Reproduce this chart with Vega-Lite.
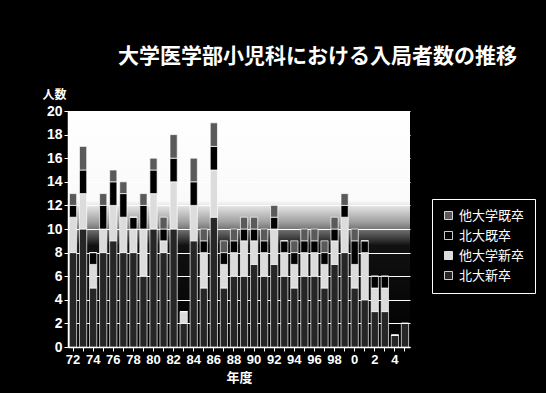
{
  "$schema": "https://vega.github.io/schema/vega-lite/v6.json",
  "autosize": "none",
  "width": 342,
  "height": 236,
  "padding": {"left": 68, "top": 111, "right": 136, "bottom": 46},
  "background": "#000000",
  "view": {
    "stroke": null,
    "fill": {
      "gradient": "linear",
      "x1": 0, "y1": 0, "x2": 0, "y2": 1,
      "stops": [
        {"offset": 0, "color": "#ffffff"},
        {"offset": 0.38, "color": "#fafafa"},
        {"offset": 0.47, "color": "#a0a0a0"},
        {"offset": 0.57, "color": "#111111"},
        {"offset": 1, "color": "#000000"}
      ]
    }
  },
  "title": {
    "text": "大学医学部小児科における入局者数の推移",
    "anchor": "start",
    "frame": "group",
    "dx": 50,
    "offset": 21,
    "color": "#ffffff",
    "font": "Noto Sans CJK JP",
    "fontSize": 21,
    "fontWeight": "bold"
  },
  "data": {
    "values": [
      {"年度": "72", "北大新卒": 8, "他大学新卒": 3, "北大既卒": 1, "他大学既卒": 1},
      {"年度": "73", "北大新卒": 10, "他大学新卒": 3, "北大既卒": 2, "他大学既卒": 2},
      {"年度": "74", "北大新卒": 5, "他大学新卒": 2, "北大既卒": 1, "他大学既卒": 0},
      {"年度": "75", "北大新卒": 8, "他大学新卒": 2, "北大既卒": 2, "他大学既卒": 1},
      {"年度": "76", "北大新卒": 9, "他大学新卒": 3, "北大既卒": 2, "他大学既卒": 1},
      {"年度": "77", "北大新卒": 8, "他大学新卒": 3, "北大既卒": 2, "他大学既卒": 1},
      {"年度": "78", "北大新卒": 8, "他大学新卒": 2, "北大既卒": 1, "他大学既卒": 0},
      {"年度": "79", "北大新卒": 6, "他大学新卒": 4, "北大既卒": 2, "他大学既卒": 1},
      {"年度": "80", "北大新卒": 10, "他大学新卒": 3, "北大既卒": 2, "他大学既卒": 1},
      {"年度": "81", "北大新卒": 8, "他大学新卒": 1, "北大既卒": 1, "他大学既卒": 1},
      {"年度": "82", "北大新卒": 10, "他大学新卒": 4, "北大既卒": 2, "他大学既卒": 2},
      {"年度": "83", "北大新卒": 2, "他大学新卒": 1, "北大既卒": 0, "他大学既卒": 0},
      {"年度": "84", "北大新卒": 9, "他大学新卒": 3, "北大既卒": 2, "他大学既卒": 2},
      {"年度": "85", "北大新卒": 5, "他大学新卒": 3, "北大既卒": 1, "他大学既卒": 1},
      {"年度": "86", "北大新卒": 11, "他大学新卒": 4, "北大既卒": 2, "他大学既卒": 2},
      {"年度": "87", "北大新卒": 5, "他大学新卒": 2, "北大既卒": 1, "他大学既卒": 1},
      {"年度": "88", "北大新卒": 6, "他大学新卒": 2, "北大既卒": 1, "他大学既卒": 1},
      {"年度": "89", "北大新卒": 6, "他大学新卒": 3, "北大既卒": 1, "他大学既卒": 1},
      {"年度": "90", "北大新卒": 7, "他大学新卒": 2, "北大既卒": 1, "他大学既卒": 1},
      {"年度": "91", "北大新卒": 6, "他大学新卒": 2, "北大既卒": 1, "他大学既卒": 1},
      {"年度": "92", "北大新卒": 7, "他大学新卒": 3, "北大既卒": 1, "他大学既卒": 1},
      {"年度": "93", "北大新卒": 6, "他大学新卒": 2, "北大既卒": 1, "他大学既卒": 0},
      {"年度": "94", "北大新卒": 5, "他大学新卒": 2, "北大既卒": 1, "他大学既卒": 1},
      {"年度": "95", "北大新卒": 6, "他大学新卒": 2, "北大既卒": 1, "他大学既卒": 1},
      {"年度": "96", "北大新卒": 6, "他大学新卒": 2, "北大既卒": 1, "他大学既卒": 1},
      {"年度": "97", "北大新卒": 5, "他大学新卒": 2, "北大既卒": 1, "他大学既卒": 1},
      {"年度": "98", "北大新卒": 7, "他大学新卒": 2, "北大既卒": 1, "他大学既卒": 1},
      {"年度": "99", "北大新卒": 8, "他大学新卒": 3, "北大既卒": 1, "他大学既卒": 1},
      {"年度": "0", "北大新卒": 5, "他大学新卒": 2, "北大既卒": 2, "他大学既卒": 1},
      {"年度": "1", "北大新卒": 4, "他大学新卒": 4, "北大既卒": 1, "他大学既卒": 0},
      {"年度": "2", "北大新卒": 3, "他大学新卒": 2, "北大既卒": 1, "他大学既卒": 0},
      {"年度": "3", "北大新卒": 3, "他大学新卒": 2, "北大既卒": 1, "他大学既卒": 0},
      {"年度": "4", "北大新卒": 1, "他大学新卒": 0, "北大既卒": 0, "他大学既卒": 0},
      {"年度": "5", "北大新卒": 2, "他大学新卒": 0, "北大既卒": 0, "他大学既卒": 0}
    ]
  },
  "transform": [
    {"fold": ["北大新卒", "他大学新卒", "北大既卒", "他大学既卒"], "as": ["区分", "人数"]},
    {"calculate": "indexof(['北大新卒', '他大学新卒', '北大既卒', '他大学既卒'], datum['区分'])", "as": "積順"}
  ],
  "mark": {"type": "bar", "stroke": "#ffffff", "strokeWidth": 0.7},
  "encoding": {
    "x": {
      "field": "年度",
      "type": "ordinal",
      "sort": null,
      "scale": {"paddingInner": 0.28, "paddingOuter": 0.14},
      "axis": {
        "title": "年度",
        "labelAngle": 0,
        "labelOverlap": false,
        "labelExpr": "toNumber(datum.value) % 2 == 0 ? datum.value : ''",
        "labelColor": "#ffffff",
        "labelFont": "Liberation Sans",
        "labelFontSize": 13,
        "labelFontWeight": "bold",
        "labelPadding": 2,
        "tickColor": "#ffffff",
        "tickSize": 4,
        "domainColor": "#ffffff",
        "domainWidth": 1.5,
        "titleColor": "#ffffff",
        "titleFont": "Noto Sans CJK JP",
        "titleFontSize": 13,
        "titleFontWeight": "bold",
        "titlePadding": 5
      }
    },
    "y": {
      "field": "人数",
      "type": "quantitative",
      "stack": "zero",
      "scale": {"domain": [0, 20]},
      "axis": {
        "title": "人数",
        "titleAngle": 0,
        "titleAlign": "left",
        "titleBaseline": "alphabetic",
        "titleX": -26,
        "titleY": -13,
        "titleColor": "#ffffff",
        "titleFont": "Noto Sans CJK JP",
        "titleFontSize": 12,
        "titleFontWeight": "bold",
        "values": [0, 2, 4, 6, 8, 10, 12, 14, 16, 18, 20],
        "labelColor": "#ffffff",
        "labelFont": "Liberation Sans",
        "labelFontSize": 14,
        "labelFontWeight": "bold",
        "labelPadding": 2,
        "tickColor": "#ffffff",
        "tickSize": 4,
        "domainColor": "#ffffff",
        "domainWidth": 1.5,
        "gridColor": "#ffffff",
        "gridWidth": 1.2
      }
    },
    "color": {
      "field": "区分",
      "type": "nominal",
      "scale": {
        "domain": ["他大学既卒", "北大既卒", "他大学新卒", "北大新卒"],
        "range": ["#5a5a5a", "#000000", "#dcdcdc", "#262626"]
      },
      "legend": {
        "title": null,
        "orient": "none",
        "legendX": 364,
        "legendY": 88,
        "strokeColor": "#ffffff",
        "padding": 10,
        "rowPadding": 6,
        "symbolType": "square",
        "symbolSize": 64,
        "symbolStrokeColor": "#ffffff",
        "symbolStrokeWidth": 0.8,
        "labelColor": "#ffffff",
        "labelFont": "Noto Sans CJK JP",
        "labelFontSize": 13
      }
    },
    "order": {"field": "積順", "type": "quantitative", "sort": "ascending"}
  }
}
